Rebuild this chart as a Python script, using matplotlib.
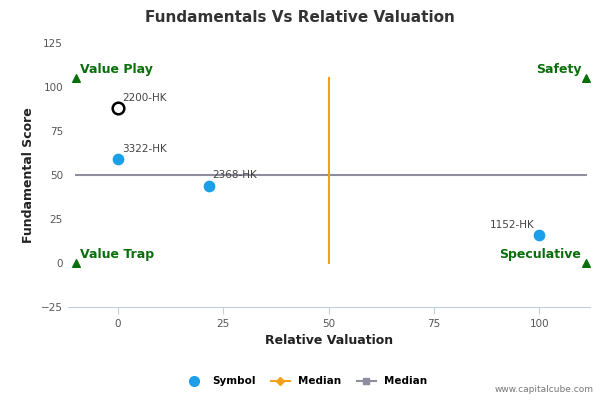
import matplotlib
matplotlib.use("Agg")
import matplotlib.pyplot as plt
from matplotlib.lines import Line2D

symbols = ["3322-HK", "2368-HK", "1152-HK"]
sym_x = [0, 21.5, 100]
sym_y = [59, 44, 16]
hl_symbol = "2200-HK"
hl_x, hl_y = 0, 88
median_x = [50, 50]
median_x_y = [0, 105]
median_y_x = [-10, 111]
median_y = [50, 50]
corner_x = [-10, 111, -10, 111]
corner_y = [105, 105, 0, 0]
corner_labels = ["Value Play", "Safety", "Value Trap", "Speculative"]
xticks = [0, 25, 50, 75, 100]
yticks = [-25, 0, 25, 50, 75, 100, 125]

fig = plt.figure(figsize=(6, 4), dpi=100)
ax = fig.add_axes([0.113, 0.2325, 0.87, 0.66])
ax.set_xlim(-11.9, 112)
ax.set_ylim(-25, 125)
ax.plot(median_y_x, median_y, color="#8e8e9e", lw=1.5, zorder=1)
ax.plot(median_x, median_x_y, color="#f5a01a", lw=1.5, zorder=1)
ax.scatter(sym_x, sym_y, s=55, color="#1a9fe8", zorder=3)
ax.scatter([hl_x], [hl_y], s=70, facecolor="white", edgecolor="black", lw=1.8, zorder=4)
lab_off = {"3322-HK": (1, 3, "left"), "2368-HK": (1, 3, "left"), "1152-HK": (-1, 3, "right")}
for s, x, y in zip(symbols, sym_x, sym_y):
    dx, dy, ha = lab_off[s]
    ax.text(x + dx, y + dy, s, fontsize=7.5, color="#444444", ha=ha, va="bottom")
ax.text(hl_x + 1, hl_y + 3, hl_symbol, fontsize=7.5, color="#444444", ha="left", va="bottom")
ax.scatter(corner_x, corner_y, marker="^", s=30, color="#0a6e0a", zorder=3)
ax.text(-10 + 1, 105 + 1, corner_labels[0], color="#0a6e0a", fontsize=9, fontweight="bold", ha="left", va="bottom")
ax.text(111 - 1, 105 + 1, corner_labels[1], color="#0a6e0a", fontsize=9, fontweight="bold", ha="right", va="bottom")
ax.text(-10 + 1, 0 + 1, corner_labels[2], color="#0a6e0a", fontsize=9, fontweight="bold", ha="left", va="bottom")
ax.text(111 - 1, 0 + 1, corner_labels[3], color="#0a6e0a", fontsize=9, fontweight="bold", ha="right", va="bottom")
ax.set_xticks(xticks)
ax.set_yticks(yticks)
ax.tick_params(labelsize=7.5, colors="#555555", length=0)
ax.tick_params(axis="x", length=5, color="#c0d0e0")
for sp in ["top", "right", "left"]:
    ax.spines[sp].set_visible(False)
ax.spines["bottom"].set_color("#c0d0e0")
ax.set_xlabel("Relative Valuation", fontsize=9, fontweight="bold", color="#222222")
ax.set_ylabel("Fundamental Score", fontsize=9, fontweight="bold", color="#222222")
fig.suptitle("Fundamentals Vs Relative Valuation", y=0.975, fontsize=11, fontweight="bold", color="#333333")
handles = [
    Line2D([], [], marker="o", color="#1a9fe8", ls="", markersize=7),
    Line2D([], [], marker="D", color="#f5a01a", lw=1.5, markersize=4),
    Line2D([], [], marker="s", color="#8e8e9e", lw=1.5, markersize=5),
]
fig.legend(handles, ["Symbol", "Median", "Median"], loc="center", bbox_to_anchor=(0.51, 0.047),
           ncol=3, frameon=False, prop={"size": 7.5, "weight": "bold"}, handlelength=1.8, columnspacing=1.5)
fig.text(0.99, 0.02, "www.capitalcube.com", ha="right", fontsize=6.5, color="#777777")
fig.savefig("out.png")
